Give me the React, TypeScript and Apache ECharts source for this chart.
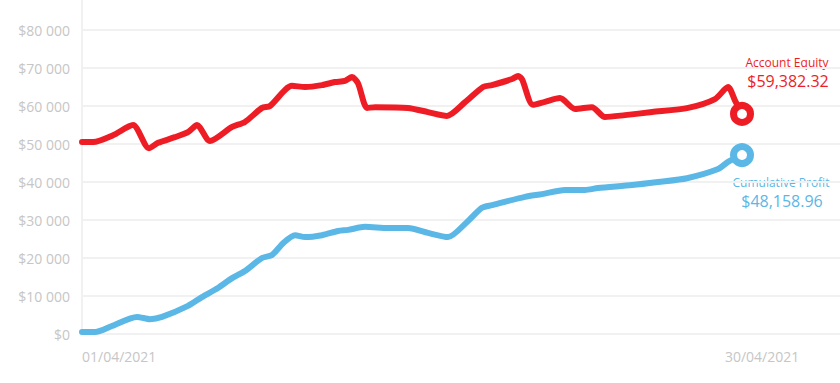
import React, { useEffect, useRef } from "react";
import * as echarts from "echarts";

// x positions in days since 01/04/2021 (index 0 = 01/04)
const equityDays = [0, 0.5, 1.4, 2.3, 3.02, 3.43, 4.19, 4.8, 5.19, 5.77, 6.77, 7.35, 8.12, 8.48, 9.47, 10.06, 10.83, 11.41, 11.86, 12.18, 12.45, 12.86, 13.22, 14.7, 15.61, 16.46, 17.28, 18.09, 18.49, 19.4, 19.67, 19.85, 20.34, 20.88, 21.56, 22.24, 23.0, 23.59, 24.49, 25.71, 27.34, 28.55, 29.14, 29.45, 29.77];
const equityValues = [50500, 50500, 52300, 55000, 48900, 50300, 51800, 53200, 55000, 50800, 54500, 55800, 59500, 60000, 65300, 65000, 65500, 66300, 66600, 67600, 66000, 59500, 59700, 59500, 58400, 57400, 61000, 65000, 65500, 67100, 67900, 67000, 60300, 61100, 62100, 59200, 59700, 57100, 57600, 58400, 59500, 61800, 65000, 61500, 57900];

const profitDays = [0, 0.59, 1.35, 2.48, 3.07, 3.61, 4.78, 5.41, 6.13, 6.77, 7.35, 8.12, 8.57, 9.07, 9.61, 10.06, 10.83, 11.55, 12.0, 12.77, 13.8, 14.7, 15.61, 16.51, 17.37, 18.04, 18.49, 19.98, 20.75, 21.79, 22.69, 23.27, 24.81, 25.98, 27.29, 28.69, 29.14, 29.77];
const profitValues = [500, 500, 2100, 4500, 3900, 4500, 7400, 9700, 12100, 14700, 16600, 20000, 20800, 23900, 26000, 25500, 26000, 27100, 27400, 28200, 27900, 27900, 26600, 25500, 29500, 33200, 33900, 36100, 36800, 37900, 37900, 38400, 39200, 40000, 41000, 43400, 45300, 47100];

const xTickDays = [0, 29];
const xTickLabels = ["01/04/2021", "30/04/2021"];

const equityLabel = "Account Equity";
const equityAmount = "$59,382.32";
const profitLabel = "Cumulative Profit";
const profitAmount = "$48,158.96";

const RED = "#ee1d25";
const BLUE = "#5bb7e5";
const GRID = "#f1f1f1";
const LABEL = "#c6c6c6";
const FONT = "'Open Sans', sans-serif";

function buildData(days: number[], values: number[], color: string) {
  return days.map((d, i) => {
    if (i === days.length - 1) {
      return {
        value: [d, values[i]],
        symbol: "circle",
        symbolSize: 17,
        itemStyle: { color: "#ffffff", borderColor: color, borderWidth: 7 },
      };
    }
    return { value: [d, values[i]], symbol: "none" };
  });
}

function fmtMoney(v: number) {
  if (v === 0) return "$0";
  const s = Math.round(v).toString().replace(/\B(?=(\d{3})+(?!\d))/g, " ");
  return "$" + s;
}

function annot(x: number, y: number, text: string, color: string, size: number) {
  return {
    type: "text",
    x,
    y,
    style: {
      text,
      fill: color,
      fontSize: size,
      fontFamily: FONT,
      align: "center",
      verticalAlign: "middle",
    },
  };
}

export default function App() {
  const ref = useRef<HTMLDivElement>(null);
  useEffect(() => {
    if (!ref.current) return;
    const chart = echarts.init(ref.current, undefined, { renderer: "svg" });
    chart.setOption({
      animation: false,
      grid: { left: 82, right: 0, top: 30, bottom: 49 },
      xAxis: {
        type: "value",
        min: 0,
        max: 34.19,
        axisLine: { show: false },
        axisTick: { show: false },
        splitLine: { show: false },
        axisLabel: {
          customValues: xTickDays,
          formatter: (v: number) => {
            const i = xTickDays.indexOf(v);
            return i >= 0 ? xTickLabels[i] : "";
          },
          align: "left",
          margin: 15,
          color: LABEL,
          fontSize: 14,
          fontFamily: FONT,
        },
      },
      yAxis: {
        type: "value",
        min: 0,
        max: 80000,
        interval: 10000,
        axisLine: { show: true, lineStyle: { color: GRID, width: 2 } },
        axisTick: { show: false },
        splitLine: { show: true, lineStyle: { color: GRID, width: 2 } },
        axisLabel: {
          formatter: fmtMoney,
          margin: 12,
          color: LABEL,
          fontSize: 14,
          fontFamily: FONT,
        },
      },
      graphic: [
        {
          type: "line",
          shape: { x1: 82, y1: 0, x2: 82, y2: 31 },
          style: { stroke: GRID, lineWidth: 2 },
          silent: true,
        },
        annot(787, 62, equityLabel, RED, 12),
        annot(788, 81, equityAmount, RED, 16),
        annot(781, 182, profitLabel, BLUE, 12),
        annot(782, 201, profitAmount, BLUE, 16),
      ],
      series: [
        {
          type: "line",
          name: "Cumulative Profit",
          data: buildData(profitDays, profitValues, BLUE),
          smooth: 0.25,
          showSymbol: true,
          lineStyle: { color: BLUE, width: 6, cap: "round", join: "round" },
          itemStyle: { color: BLUE },
          z: 2,
        },
        {
          type: "line",
          name: "Account Equity",
          data: buildData(equityDays, equityValues, RED),
          smooth: 0.25,
          showSymbol: true,
          lineStyle: { color: RED, width: 6, cap: "round", join: "round" },
          itemStyle: { color: RED },
          z: 3,
        },
      ],
    });
    return () => chart.dispose();
  }, []);
  return (
    <div
      ref={ref}
      style={{ position: "fixed", left: 0, top: 0, width: 840, height: 383, background: "#ffffff" }}
    />
  );
}
